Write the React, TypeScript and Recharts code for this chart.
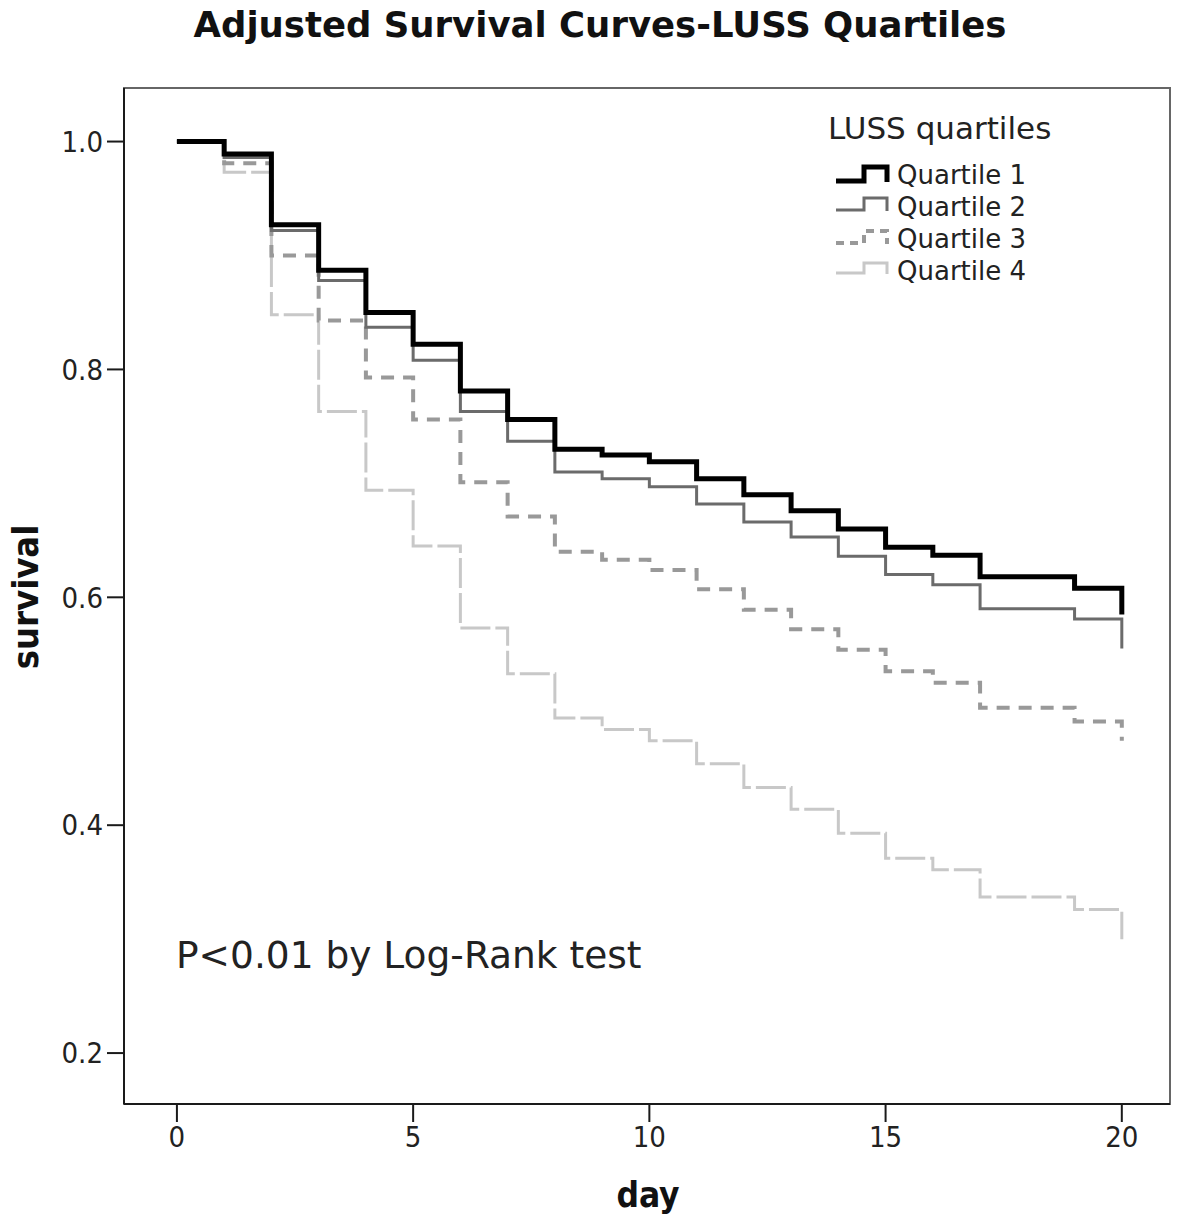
import React from 'react';
import { LineChart, Line, XAxis, YAxis, ReferenceArea, Customized } from 'recharts';

const days = [0, 1, 2, 3, 4, 5, 6, 7, 8, 9, 10, 11, 12, 13, 14, 15, 16, 17, 18, 19, 20];
const quartile1 = [1.0, 0.989, 0.927, 0.887, 0.850, 0.822, 0.781, 0.756, 0.730, 0.725, 0.719, 0.704, 0.690, 0.676, 0.660, 0.644, 0.637, 0.618, 0.618, 0.608, 0.585];
const quartile2 = [1.0, 0.986, 0.922, 0.878, 0.837, 0.808, 0.763, 0.737, 0.710, 0.704, 0.697, 0.682, 0.666, 0.653, 0.636, 0.620, 0.611, 0.590, 0.590, 0.581, 0.555];
const quartile3 = [1.0, 0.981, 0.900, 0.843, 0.793, 0.756, 0.701, 0.671, 0.640, 0.633, 0.624, 0.607, 0.589, 0.572, 0.554, 0.535, 0.525, 0.503, 0.503, 0.491, 0.474];
const quartile4 = [1.0, 0.973, 0.848, 0.763, 0.694, 0.645, 0.573, 0.533, 0.494, 0.484, 0.474, 0.454, 0.433, 0.414, 0.393, 0.371, 0.361, 0.337, 0.337, 0.326, 0.300];

const xTicks = [0, 5, 10, 15, 20];
const yTicks = [0.2, 0.4, 0.6, 0.8, 1.0];
const seriesNames = ['Quartile 1', 'Quartile 2', 'Quartile 3', 'Quartile 4'];

const data = days.map((d, i) => ({
  day: d,
  q1: quartile1[i],
  q2: quartile2[i],
  q3: quartile3[i],
  q4: quartile4[i],
}));

const styles = [
  { key: 'q1', stroke: '#000000', width: 5, dash: undefined, legendDash: undefined },
  { key: 'q2', stroke: '#6b6b6b', width: 3, dash: undefined, legendDash: undefined },
  { key: 'q3', stroke: '#999999', width: 4, dash: '13 9', legendDash: '8 6' },
  { key: 'q4', stroke: '#c8c8c8', width: 3, dash: '30 5', legendDash: undefined },
];

const FONT = 'DejaVu Sans, sans-serif';

const Overlay = () => {
  const legendY = [181, 210, 243, 273];
  const upY = [167, 198, 231, 263];
  return (
    <g>
      <text x={600} y={37} textAnchor="middle" fontFamily={FONT} fontWeight="bold" fontSize={35.5} fill="#111">
        Adjusted Survival Curves-LUSS Quartiles
      </text>
      <text x={828} y={139} fontFamily={FONT} fontSize={31} fill="#222">LUSS quartiles</text>
      {seriesNames.map((n, i) => (
        <g key={n}>
          <path
            d={`M836 ${legendY[i]} H864 V${upY[i]} H887 V${legendY[i] + 1}`}
            fill="none"
            stroke={styles[i].stroke}
            strokeWidth={styles[i].width}
            strokeDasharray={styles[i].legendDash}
          />
          <text x={897} y={184 + i * 32} fontFamily={FONT} fontSize={26} fill="#222">{n}</text>
        </g>
      ))}
      <text x={176} y={968} fontFamily={FONT} fontSize={37.5} fill="#222">P&lt;0.01 by Log-Rank test</text>
      <text x={648} y={1207} textAnchor="middle" fontFamily="DejaVu Sans Condensed, DejaVu Sans, sans-serif" fontWeight="bold" fontSize={35} fill="#111">day</text>
      <text
        x={38}
        y={597}
        textAnchor="middle"
        transform="rotate(-90 38 597)"
        fontFamily="DejaVu Sans Condensed, DejaVu Sans, sans-serif"
        fontWeight="bold"
        fontSize={36}
        fill="#111"
      >
        survival
      </text>
    </g>
  );
};

export default function App() {
  const tickFont = { fill: '#222', fontSize: 29, fontFamily: 'DejaVu Sans Condensed, DejaVu Sans, sans-serif' };
  return (
    <div style={{ position: 'absolute', left: 0, top: 0, width: 1181, height: 1222, background: '#fff' }}>
      <LineChart width={1181} height={1222} data={data} margin={{ top: 88, right: 11, bottom: 0, left: 0 }}>
        <ReferenceArea x1={-1.12} x2={21.02} y1={0.1553} y2={1.047} fill="none" stroke="#666" strokeWidth={2} ifOverflow="visible" />
        <XAxis
          dataKey="day"
          type="number"
          domain={[-1.12, 21.02]}
          ticks={xTicks}
          allowDataOverflow
          height={118}
          tickSize={18}
          tickMargin={4}
          tick={tickFont}
          axisLine={{ stroke: '#1a1a1a', strokeWidth: 2 }}
          tickLine={{ stroke: '#1a1a1a', strokeWidth: 2 }}
        />
        <YAxis
          type="number"
          domain={[0.1553, 1.047]}
          ticks={yTicks}
          allowDataOverflow
          width={124}
          tickSize={17}
          tickMargin={4}
          tick={tickFont}
          tickFormatter={(v: number) => v.toFixed(1)}
          axisLine={{ stroke: '#1a1a1a', strokeWidth: 2 }}
          tickLine={{ stroke: '#1a1a1a', strokeWidth: 2 }}
        />
        {[...styles].reverse().map((s) => (
          <Line
            key={s.key}
            dataKey={s.key}
            type="stepAfter"
            stroke={s.stroke}
            strokeWidth={s.width}
            strokeDasharray={s.dash}
            dot={false}
            activeDot={false}
            isAnimationActive={false}
          />
        ))}
        <Customized component={<Overlay />} />
      </LineChart>
    </div>
  );
}
